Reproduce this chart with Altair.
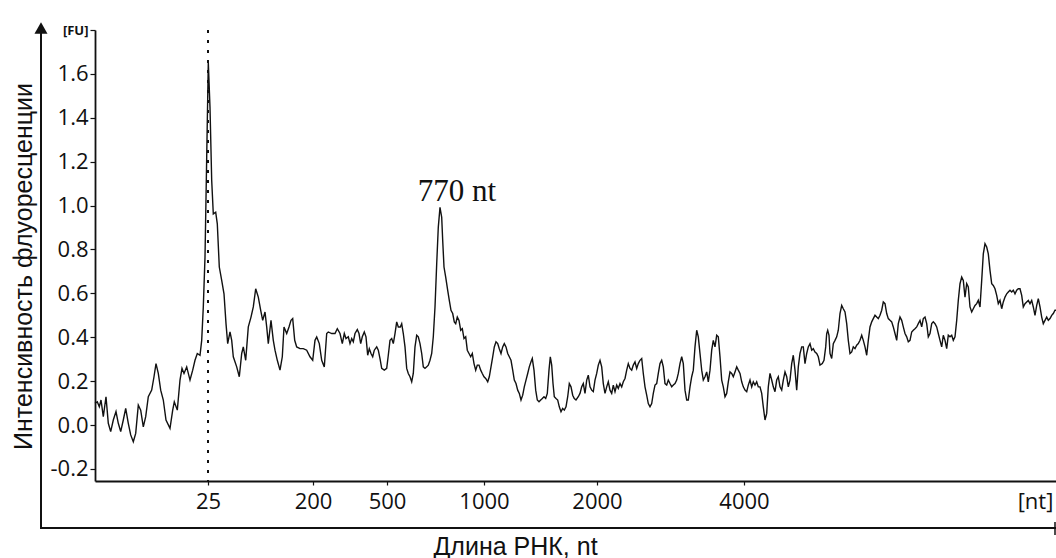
import altair as alt
import pandas as pd

# ---- trace segments (migration position in plot units, fluorescence in FU) ----
pos_a = [0, 2.3, 4.3, 6, 8.3, 11, 13.3, 15.7, 18.3, 21, 23.3, 25.7, 28.3, 30.7, 33.3, 35.7, 38.3, 40.7, 43.3, 45.7,
         48.3, 50.7, 53.3, 56.7, 59, 61, 63.3, 65.7, 68.3, 71, 75, 77.7, 79.3, 82.3, 85, 87, 89, 91.7, 95, 97.7,
         100, 102.3, 105, 106.7, 108.3, 110, 111.7, 113.3, 115, 116.7, 118.3, 120.7, 122.3, 124.3, 126.7, 129, 131, 132.7, 135, 136.7,
         138.3, 141.7, 144.3, 146.7, 148.3, 150.7, 153.3, 156, 158.3, 160.7, 163.3, 165.7, 167.7, 170, 171.7, 173.3, 176, 178.3, 180, 182.3,
         185, 187.3, 189, 191.7, 194, 196, 197.7, 199.7, 201.7, 205, 208.3, 211.7, 215, 217.7, 220, 221.7, 224.3, 226.7, 229.3, 231.7,
         233.3, 236.7, 240, 242.3, 245]
fu_a = [0.099, 0.106, 0.083, 0.114, 0.038, 0.129, 0.008, -0.030, 0.023, 0.061, 0.008, -0.030, 0.023, 0.076, 0.008, -0.045, -0.076, -0.038, 0.091, 0.068,
        -0.008, 0.038, 0.129, 0.159, 0.220, 0.280, 0.235, 0.159, 0.114, 0.023, -0.015, 0.068, 0.106, 0.068, 0.205, 0.258, 0.235, 0.265, 0.205, 0.250,
        0.295, 0.326, 0.318, 0.386, 0.538, 0.765, 1.220, 1.652, 1.447, 1.114, 0.962, 0.970, 0.917, 0.720, 0.659, 0.598, 0.462, 0.371, 0.424, 0.386,
        0.311, 0.265, 0.220, 0.326, 0.356, 0.295, 0.447, 0.492, 0.538, 0.621, 0.583, 0.523, 0.477, 0.515, 0.447, 0.371, 0.477, 0.386, 0.341, 0.295,
        0.250, 0.311, 0.447, 0.417, 0.447, 0.477, 0.485, 0.386, 0.356, 0.348, 0.348, 0.341, 0.311, 0.295, 0.386, 0.401, 0.371, 0.295, 0.265, 0.417,
        0.424, 0.417, 0.417, 0.439, 0.417]

pos_b = [247.3, 249.3, 251, 253.3, 255, 256.7, 258.3, 260, 262.3, 264, 265.7, 267.3, 269.3, 271, 272.7, 274.3, 276, 277.7, 279.3, 281.7,
         283.3, 285, 286.7, 289.3, 291.7, 293.3, 295, 296.7, 298.3, 300, 301.7, 303.3, 305.3, 306.7, 308.3, 310, 311.7, 313.3, 315, 316.7,
         318.3, 320, 321.7, 323.3, 325, 326.7, 328.3, 330, 331.7, 333.3, 335, 336.7, 338.3, 340, 341.7, 343.3, 345, 346.7, 347.7, 349,
         350.7, 352.7, 354.3, 356, 357.7, 359.3, 360.7, 362.3, 364, 365.7, 367.3, 369, 370.7, 372.3, 374, 375.7, 377.3, 379, 380.7, 382.3,
         384, 385.7, 387.3, 389, 390.7, 392.7, 394.3, 396, 397.7, 399.3, 401, 402.7, 404.3, 406, 407.7, 409.3, 411, 412.7, 414.3, 416,
         417.7, 419.3, 421, 422.7, 424.3, 426, 427.7, 429.3, 431, 432.7, 434.3, 436, 437.3, 439, 440.7, 442.3, 444, 445.7, 447.3, 449,
         450.7, 452.3, 454, 455.3, 456.7, 458, 459.3, 461, 462.7, 464.3, 466, 467.7, 469.3, 471, 472.7, 474.3, 476, 477.7, 479.3, 481,
         483.3, 485]
fu_b = [0.371, 0.417, 0.394, 0.402, 0.371, 0.394, 0.379, 0.417, 0.435, 0.417,
        0.371, 0.402, 0.424, 0.402, 0.318, 0.348, 0.326, 0.311, 0.341, 0.356,
        0.341, 0.303, 0.258, 0.250, 0.258, 0.318, 0.386, 0.394, 0.371, 0.417,
        0.470, 0.447, 0.447, 0.462, 0.417, 0.356, 0.258, 0.235, 0.220, 0.197,
        0.235, 0.356, 0.409, 0.402, 0.371, 0.326, 0.265, 0.258, 0.265, 0.273,
        0.295, 0.326, 0.402, 0.538, 0.735, 0.902, 0.992, 0.947, 0.841, 0.720,
        0.674, 0.614, 0.568, 0.523, 0.508, 0.470, 0.462, 0.492, 0.477, 0.432,
        0.439, 0.394, 0.402, 0.341, 0.326, 0.311, 0.326, 0.280, 0.250, 0.273,
        0.273, 0.250, 0.235, 0.220, 0.212, 0.197, 0.220, 0.265, 0.311, 0.356,
        0.379, 0.371, 0.348, 0.326, 0.356, 0.371, 0.356, 0.326, 0.311, 0.295,
        0.250, 0.205, 0.189, 0.159, 0.144, 0.114, 0.136, 0.174, 0.205, 0.235,
        0.265, 0.288, 0.303, 0.250, 0.159, 0.114, 0.106, 0.114, 0.121, 0.129,
        0.121, 0.144, 0.250, 0.311, 0.273, 0.189, 0.129, 0.121, 0.114, 0.083,
        0.061, 0.076, 0.068, 0.083, 0.129, 0.189, 0.174, 0.136, 0.121, 0.114,
        0.129, 0.144]

pos_c = [486.7, 488.3, 490.0, 491.7, 493.3, 495.0, 496.7, 498.3, 500.0, 501.7, 503.3, 505.0, 506.7, 508.3, 510.0, 511.7,
         513.3, 515.0, 516.7, 518.3, 520.0, 521.7, 523.3, 525.0, 526.7, 528.3, 530.0, 531.7, 533.3, 535.0, 536.7, 538.3,
         540.0, 541.7, 543.3, 545.0, 546.7, 548.3, 550.0, 551.7, 553.3, 555.0, 556.7, 558.3, 560.0, 561.7, 563.3, 565.0,
         566.7, 568.3, 570.0, 571.7, 573.3, 575.0, 576.7, 578.3, 580.0, 581.7, 583.3, 585.0, 586.7, 588.3, 590.0, 591.7,
         593.3, 595.0, 596.7, 598.3, 600.0, 601.7, 603.3, 605.0, 606.7, 608.3, 610.0, 611.7, 613.3, 615.0, 616.7, 618.3,
         620.0, 621.7, 623.3, 625.0, 626.7, 628.3, 630.0, 631.7, 633.3, 635.0, 636.7, 638.3, 640.0, 641.7, 643.3, 645.0,
         646.7, 648.3, 650.0, 651.7, 653.3, 655.0, 656.7, 658.3, 660.0, 661.7, 663.3, 665.0, 666.7, 668.3, 670.0, 671.7,
         673.3, 675.0, 676.7, 678.3, 680.0, 681.7, 683.3, 685.0, 686.7, 688.3, 690.0, 691.7, 693.3, 695.0, 696.7, 698.3,
         700.0, 701.7, 703.3, 705.0, 706.7, 708.3, 710.0, 711.7, 713.3, 715.0, 716.7, 718.3, 720.0, 721.7, 723.3, 725.0]
fu_c = [0.174, 0.189, 0.144, 0.205, 0.227, 0.174, 0.159, 0.152, 0.205, 0.235,
        0.273, 0.295, 0.265, 0.189, 0.144, 0.174, 0.197, 0.159, 0.144, 0.182,
        0.152, 0.182, 0.167, 0.189, 0.174, 0.197, 0.212, 0.250, 0.280, 0.258,
        0.250, 0.273, 0.288, 0.258, 0.280, 0.295, 0.303, 0.235, 0.174, 0.136,
        0.098, 0.083, 0.098, 0.144, 0.182, 0.189, 0.235, 0.280, 0.295, 0.265,
        0.189, 0.182, 0.205, 0.189, 0.174, 0.182, 0.189, 0.205, 0.235, 0.280,
        0.311, 0.280, 0.159, 0.114, 0.114, 0.174, 0.220, 0.250, 0.356, 0.432,
        0.402, 0.326, 0.250, 0.205, 0.220, 0.242, 0.197, 0.250, 0.341, 0.386,
        0.356, 0.409, 0.402, 0.311, 0.205, 0.174, 0.129, 0.144, 0.197, 0.242,
        0.235, 0.220, 0.242, 0.265, 0.250, 0.235, 0.197, 0.174, 0.159, 0.152,
        0.182, 0.205, 0.174, 0.197, 0.182, 0.197, 0.174, 0.174, 0.144, 0.083,
        0.023, 0.053, 0.174, 0.235, 0.205, 0.174, 0.152, 0.205, 0.220, 0.174,
        0.159, 0.205, 0.242, 0.220, 0.174, 0.205, 0.280, 0.318, 0.250, 0.159,
        0.265, 0.326, 0.356, 0.356, 0.280, 0.326, 0.356, 0.371, 0.341, 0.348,
        0.333, 0.326, 0.311, 0.273]

pos_d = [727.3, 729.0, 730.7, 731.7, 732.7, 734.0, 735.0,
         736.7, 738.3, 740.0, 741.7, 743.3, 745.0, 746.7, 748.3, 750.0, 751.7, 753.3, 755.0, 756.7, 758.3, 760.0, 761.7,
         763.3, 765.0, 766.7, 768.3, 770.0, 771.7, 773.3, 775.0, 776.7, 778.3, 780.0, 781.7, 783.3, 785.0, 786.7, 788.3,
         790.0, 791.7, 793.3, 795.0, 796.7, 798.3, 800.0, 801.7, 803.3, 805.0, 806.7, 808.3, 810.0, 811.7, 813.3, 815.0,
         816.7, 818.3, 820.0, 821.7, 823.3, 825.0, 826.7, 828.3, 830.0, 831.7, 833.3, 835.0, 836.7, 838.3, 840.0, 841.7,
         843.3, 845.0, 846.7, 848.3, 850.0, 851.7, 853.3, 855.0, 856.7, 858.3, 860.0, 861.7, 863.3, 865.0, 866.7, 868.3,
         870.0, 871.7, 873.3, 875.0, 876.7, 878.3, 880.0, 881.7, 883.3, 885.0, 886.7, 888.3, 890.0, 891.7, 893.3, 895.0,
         896.7, 898.3, 900.0, 901.7, 903.3, 905.0, 906.7, 908.3, 910.0, 911.7, 913.3, 915.0, 916.7, 918.3, 920.0, 921.7,
         923.3, 925.0, 926.7, 928.3, 930.0, 931.7, 933.3, 935.0, 936.7, 938.3, 940.0, 941.7, 943.3, 945.0, 946.7, 948.3,
         950.0, 951.7, 953.3, 955.0, 956.7, 958.3, 960.0, 961.0]
fu_d = [0.280, 0.295, 0.356, 0.417, 0.432, 0.409, 0.326,
        0.303, 0.371, 0.386, 0.402, 0.432, 0.508, 0.545, 0.530, 0.515, 0.462,
        0.386, 0.326, 0.333, 0.356, 0.348, 0.364, 0.371, 0.386, 0.409, 0.386,
        0.356, 0.318, 0.386, 0.447, 0.470, 0.485, 0.500, 0.492, 0.485, 0.500,
        0.523, 0.561, 0.553, 0.508, 0.485, 0.477, 0.470, 0.447, 0.417, 0.386,
        0.462, 0.492, 0.477, 0.447, 0.417, 0.402, 0.379, 0.386, 0.424, 0.432,
        0.439, 0.447, 0.462, 0.477, 0.447, 0.485, 0.492, 0.462, 0.402, 0.417,
        0.462, 0.470, 0.462, 0.447, 0.417, 0.386, 0.356, 0.409, 0.386, 0.348,
        0.409, 0.402, 0.409, 0.386, 0.402, 0.477, 0.568, 0.644, 0.674, 0.659,
        0.583, 0.644, 0.629, 0.538, 0.515, 0.530, 0.545, 0.553, 0.568, 0.538,
        0.659, 0.780, 0.826, 0.811, 0.780, 0.705, 0.644, 0.636, 0.621, 0.591,
        0.553, 0.568, 0.530, 0.561, 0.583, 0.598, 0.606, 0.614, 0.606, 0.614,
        0.598, 0.614, 0.621, 0.621, 0.591, 0.538, 0.553, 0.561, 0.568, 0.553,
        0.568, 0.538, 0.500, 0.545, 0.576, 0.538, 0.492, 0.462, 0.477, 0.492,
        0.477, 0.485, 0.500, 0.508, 0.523,
        0.523]

# ---- axis ticks ----
x_tick_pos = [113, 218, 292, 389, 502, 649, 940]
x_tick_labels = ["25", "200", "500", "1000", "2000", "4000", "[nt]"]
y_tick_values = [-0.2, 0.0, 0.2, 0.4, 0.6, 0.8, 1.0, 1.2, 1.4, 1.6, 1.8]

# ---- annotations ----
marker_pos = [113]
label_pos = [362]
label_fu = [1.023]
label_text = ["770 nt"]

rows = []
for ps, fs in [(pos_a, fu_a), (pos_b, fu_b), (pos_c, fu_c), (pos_d, fu_d)]:
    for p, f in zip(ps, fs):
        rows.append({"pos": p, "fu": f})
trace = pd.DataFrame(rows)

label_expr = " : ".join(
    f"datum.value == {p} ? '{l}'" for p, l in zip(x_tick_pos, x_tick_labels)
) + " : ''"

xscale = alt.Scale(domain=[0, 961], nice=False, zero=False)
yscale = alt.Scale(domain=[-0.255, 1.8], nice=False, zero=False)

INK = "#111111"

x_axis = alt.Axis(
    values=x_tick_pos, labelExpr=label_expr, title="Длина РНК, nt",
    grid=False, domainColor=INK, domainWidth=1.8, tickColor=INK, tickWidth=1.2, tickSize=4,
    tickOpacity={"condition": {"test": "datum.value > 900", "value": 0}, "value": 1},
    labelFont="Open Sans", labelFontSize=22, labelColor=INK, labelBaseline="alphabetic",
    labelPadding=23, labelFlush=False, labelOverlap=False,
    titleFont="Liberation Sans", titleFontSize=25, titleFontWeight="normal", titleColor=INK,
    titleX=420, titleY=73, titleAlign="center", titleBaseline="alphabetic",
)
y_axis = alt.Axis(
    values=y_tick_values,
    labelExpr="datum.value > 1.7 ? '[FU]' : replace(format(datum.value, '.1f'), '\u2212', '-')",
    title="Интенсивность флуоресценции",
    grid=False, domainColor=INK, domainWidth=1.8, tickColor=INK, tickWidth=1.2, tickSize=5,
    labelFont="Open Sans", labelColor=INK, labelPadding=2, labelOverlap=False, labelFlush=False,
    labelFontSize={"condition": {"test": "datum.value > 1.7", "value": 13}, "value": 22},
    labelFontWeight={"condition": {"test": "datum.value > 1.7", "value": "bold"}, "value": "normal"},
    titleFont="Liberation Sans", titleFontSize=25, titleFontWeight="normal", titleColor=INK,
    titleX=-72, titleY=236, titleAlign="center", titleBaseline="middle", titleAngle=270,
)

X = alt.X("pos:Q", scale=xscale, axis=x_axis, title="Длина РНК, nt")
Y = alt.Y("fu:Q", scale=yscale, axis=y_axis, title="Интенсивность флуоресценции")

line = alt.Chart(trace).mark_line(color=INK, strokeWidth=1.4).encode(x=X, y=Y)

marker = alt.Chart(pd.DataFrame({"pos": marker_pos})).mark_rule(
    color=INK, strokeWidth=2, strokeDash=[3, 7]
).encode(x=X)

label = alt.Chart(pd.DataFrame({"pos": label_pos, "fu": label_fu, "t": label_text})).mark_text(
    font="Liberation Serif", fontSize=31, align="center", baseline="alphabetic", color=INK
).encode(x=X, y=Y, text="t:N")

one = pd.DataFrame({"k": [0]})
outer_y = alt.Chart(one).mark_rule(color=INK, strokeWidth=2).encode(
    x=alt.value(-54), y=alt.value(-4), y2=alt.value(498)
)
arrow = alt.Chart(one).mark_point(shape="triangle-up", filled=True, size=170, color=INK, opacity=1).encode(
    x=alt.value(-54), y=alt.value(-2)
)
outer_x = alt.Chart(one).mark_rule(color=INK, strokeWidth=2).encode(
    x=alt.value(-55), x2=alt.value(961), y=alt.value(498)
)
end_tick = alt.Chart(one).mark_rule(color=INK, strokeWidth=1.5).encode(
    x=alt.value(960), y=alt.value(492), y2=alt.value(505)
)

chart = alt.layer(line, marker, label, outer_y, arrow, outer_x, end_tick).properties(
    width=961, height=451,
    autosize="none",
    padding={"left": 95, "top": 30, "right": 0, "bottom": 77},
    background="white",
).configure_view(stroke=None)

chart.save("out.html", embed_options={"renderer": "svg", "actions": False})
